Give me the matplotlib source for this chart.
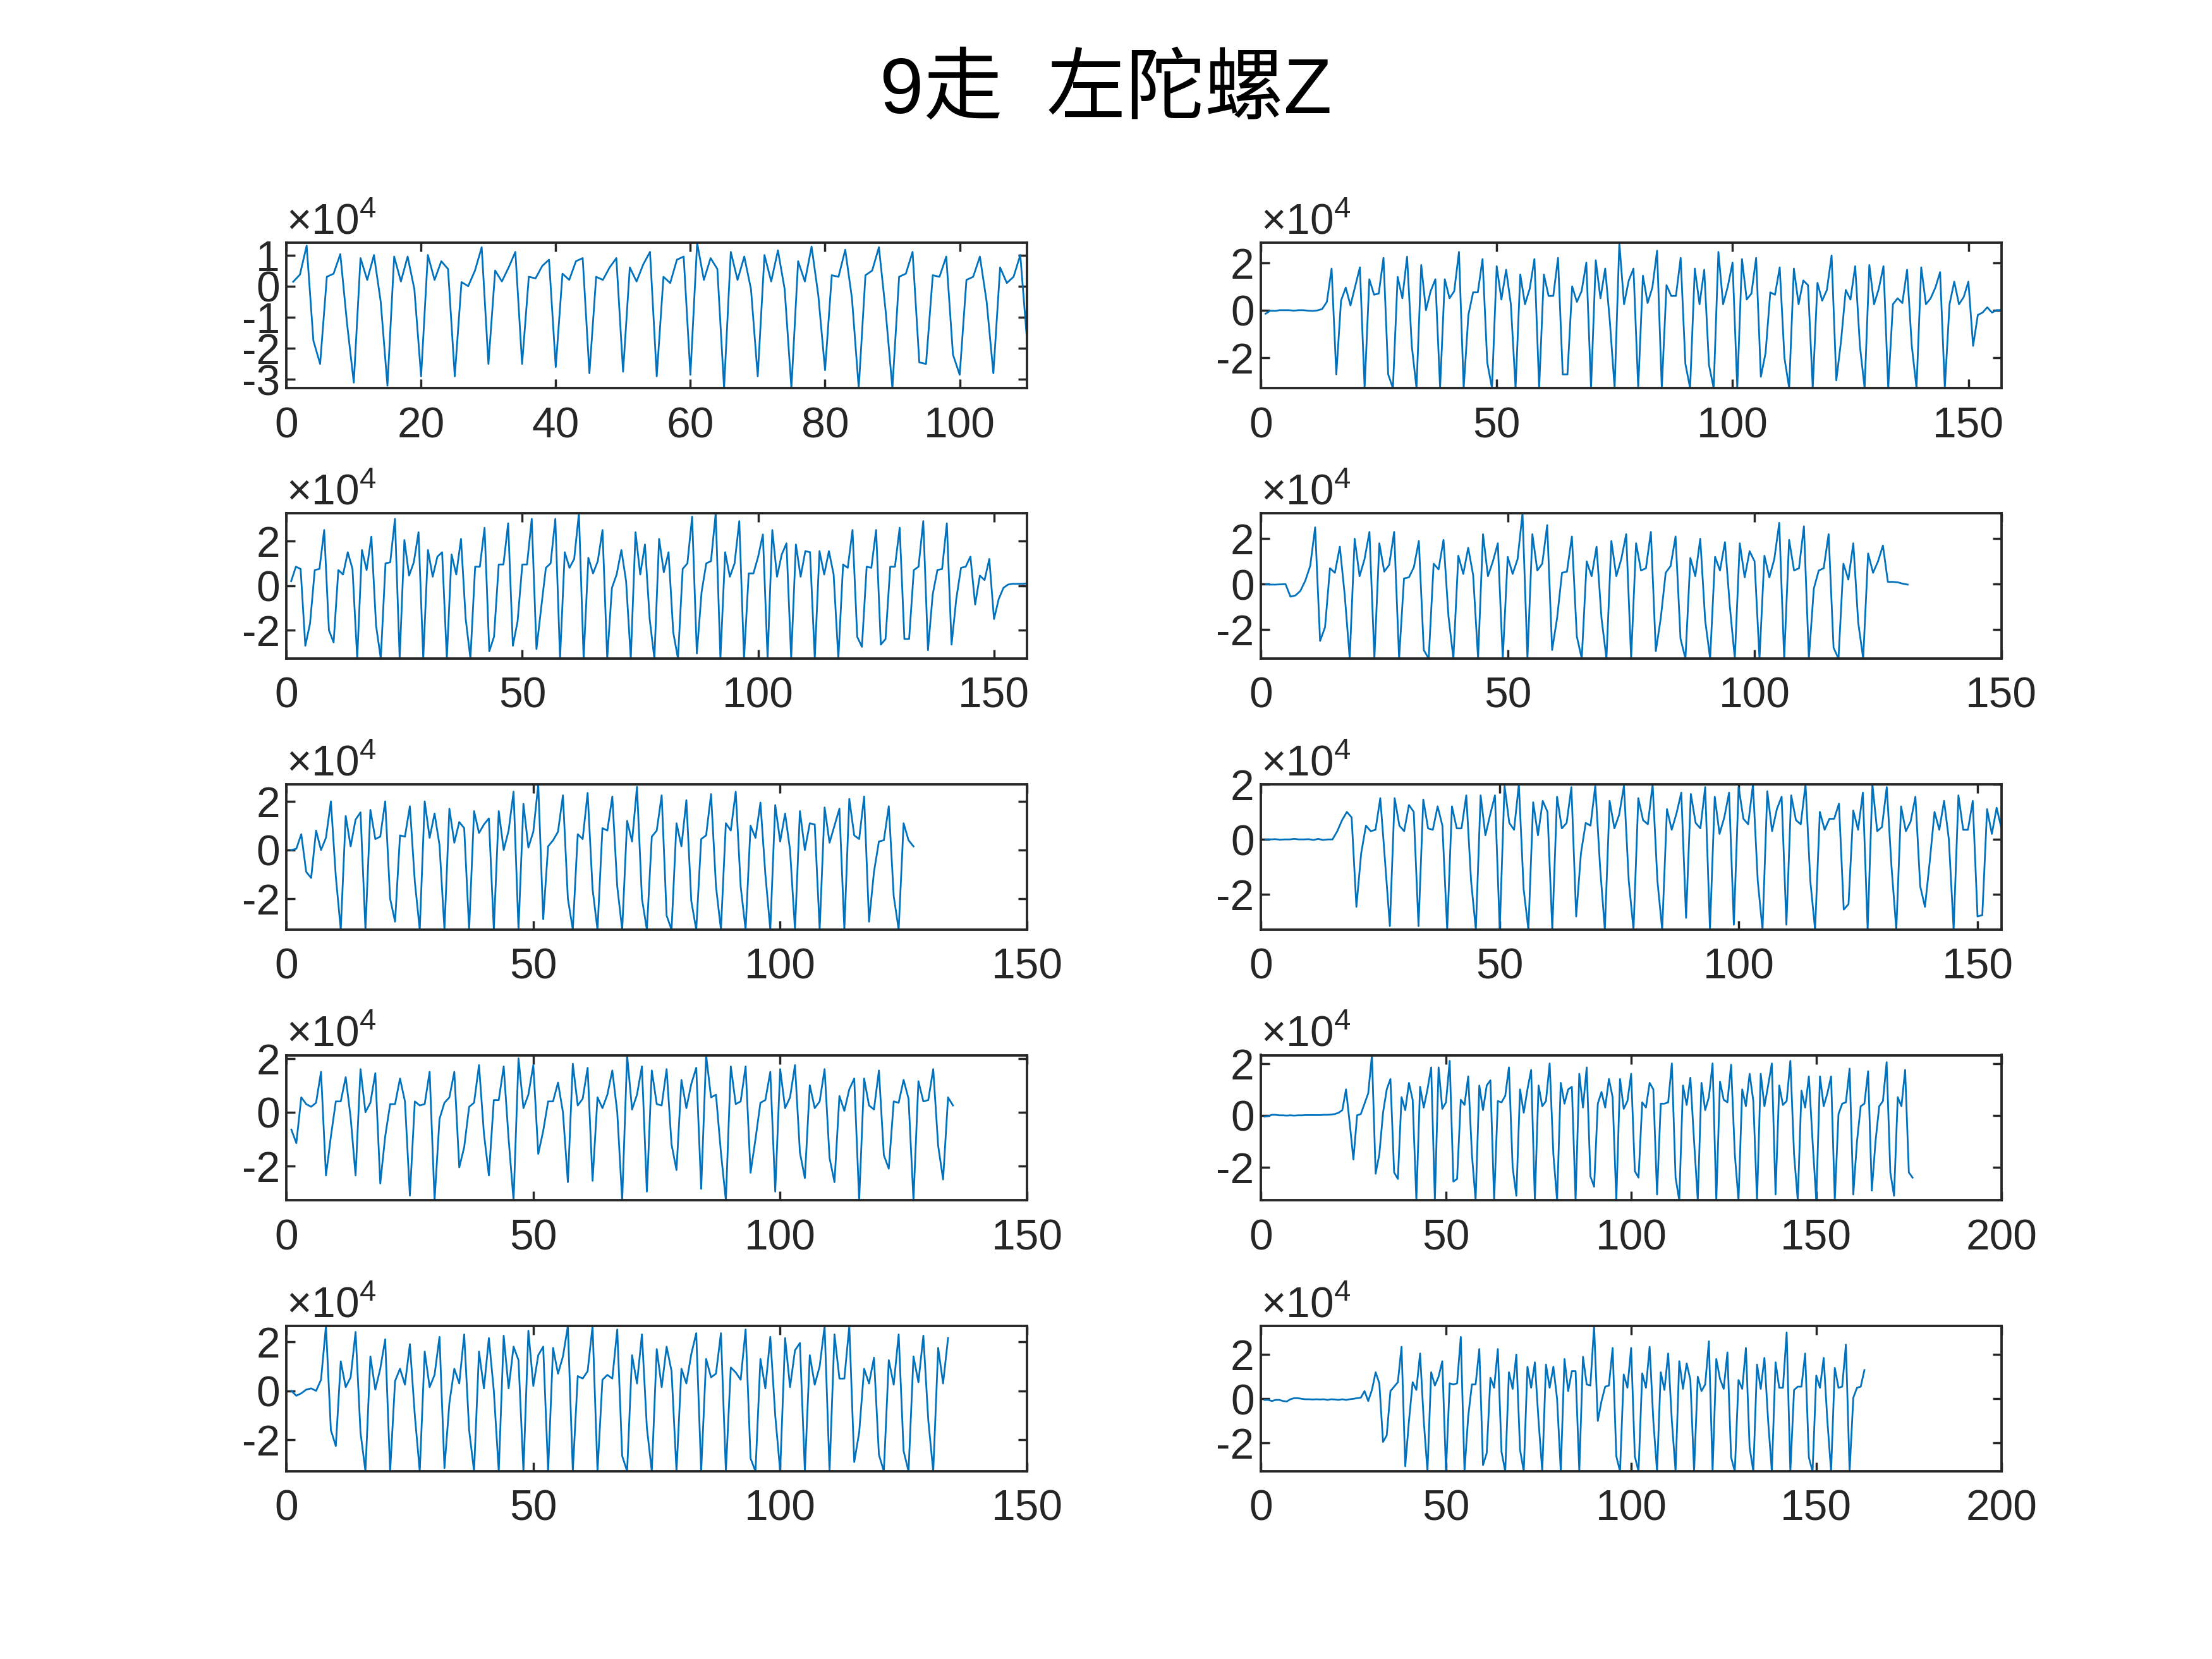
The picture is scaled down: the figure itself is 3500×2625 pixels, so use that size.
import numpy as np
import matplotlib
matplotlib.use('Agg')
import matplotlib.pyplot as plt
from matplotlib.ticker import MultipleLocator, FuncFormatter

plt.rcParams['font.family'] = ['Liberation Sans', 'Noto Sans CJK SC', 'DejaVu Sans']
plt.rcParams['axes.unicode_minus'] = False
plt.rcParams['mathtext.fontset'] = 'custom'
plt.rcParams['mathtext.rm'] = 'Liberation Sans'
plt.rcParams['mathtext.it'] = 'Liberation Sans:italic'
plt.rcParams['mathtext.bf'] = 'Liberation Sans:bold'

title = '9走  左陀螺Z'

# gyro Z readings, in units of 1e4
gz_1 = [0.14, 0.37, 1.3, -1.75, -2.5, 0.3, 0.4, 1.03, -1.2, -3.1,
        0.9, 0.2, 1.0, -0.5, -3.2, 0.95, 0.15, 0.95, -0.1, -2.9,
        1.0, 0.2, 0.8, 0.55, -2.9, 0.13, 0.0, 0.5, 1.25, -2.5,
        0.5, 0.15, 0.6, 1.1, -2.5, 0.3, 0.25, 0.65, 0.85, -2.6,
        0.4, 0.2, 0.8, 0.9, -2.8, 0.3, 0.2, 0.6, 0.9, -2.75,
        0.6, 0.15, 0.7, 1.1, -2.9, 0.3, 0.1, 0.85, 0.95, -2.85,
        1.39, 0.2, 0.9, 0.55, -3.28, 1.1, 0.2, 0.95, -0.1, -2.9,
        1.0, 0.15, 1.15, -0.1, -3.28, 0.8, 0.15, 1.27, -0.3, -2.7,
        0.35, 0.3, 1.17, -0.4, -3.28, 0.35, 0.5, 1.25, -0.8, -3.28,
        0.3, 0.4, 1.1, -2.45, -2.5, 0.35, 0.3, 0.95, -2.2, -2.85,
        0.2, 0.3, 0.95, -0.5, -2.8, 0.6, 0.1, 0.3, 1.0, -1.75]

gz_2 = [-0.15, -0.02, -0.03, 0.0, 0.0, 0.0, -0.02, 0.0, 0.0, -0.02,
        -0.03, -0.01, 0.05, 0.35, 1.75, -2.7, 0.4, 0.95, 0.2, 1.0,
        1.8, -3.28, 1.3, 0.65, 0.7, 2.2, -2.7, -3.28, 1.4, 0.5,
        2.25, -1.5, -3.28, 1.9, 0.0, 0.8, 1.3, -3.28, 1.3, 0.5,
        0.8, 2.45, -3.28, -0.2, 0.75, 0.75, 2.15, -2.2, -3.28, 1.85,
        0.45, 1.7, 0.25, -3.28, 1.5, 0.25, 0.9, 2.15, -3.28, 1.5,
        0.6, 0.6, 2.2, -2.7, -2.7, 1.0, 0.35, 0.8, 2.0, -3.28,
        2.1, 0.5, 1.75, -0.5, -3.28, 2.83, 0.25, 1.25, 1.75, -3.28,
        1.45, 0.3, 0.95, 2.5, -3.28, 1.05, 0.6, 0.6, 2.2, -2.25,
        -3.28, 1.75, 0.25, 1.7, -2.3, -3.28, 2.45, 0.25, 1.0, 2.0,
        -3.28, 2.15, 0.45, 0.7, 2.2, -2.8, -1.8, 0.75, 0.65, 1.8,
        -2.0, -3.28, 1.75, 0.25, 1.25, 1.05, -3.28, 1.15, 0.4, 0.85,
        2.3, -2.95, -1.3, 0.85, 0.45, 1.85, -1.5, -3.28, 1.9, 0.25,
        0.9, 1.85, -3.28, 0.25, 0.5, 0.3, 1.7, -1.5, -3.28, 1.8,
        0.25, 0.5, 0.95, 1.6, -3.28, 0.25, 1.2, 0.25, 0.55, 1.2,
        -1.5, -0.2, -0.1, 0.12, -0.1, 0.0, 0.0]

gz_3 = [0.2, 0.85, 0.75, -2.7, -1.7, 0.7, 0.75, 2.5, -2.0, -2.55,
        0.7, 0.5, 1.5, 0.75, -3.28, 1.6, 0.7, 2.2, -1.8, -3.28,
        1.0, 1.05, 3.0, -3.28, 2.05, 0.45, 1.05, 2.4, -3.28, 1.6,
        0.4, 1.3, 1.5, -3.28, 1.4, 0.5, 2.1, -1.5, -3.28, 0.85,
        0.85, 2.6, -2.95, -2.3, 0.95, 0.95, 2.8, -2.7, -1.6, 0.95,
        0.95, 3.0, -2.85, -1.0, 0.8, 1.0, 3.0, -3.28, 1.5, 0.8,
        1.2, 3.25, -3.28, 1.25, 0.55, 1.1, 2.5, -3.28, -0.1, 0.5,
        1.6, 0.2, -3.28, 2.4, 0.5, 1.85, -1.5, -3.28, 2.1, 0.6,
        1.5, -2.1, -3.28, 0.75, 1.0, 3.1, -3.05, -0.3, 1.0, 1.1,
        3.25, -3.28, 1.5, 0.4, 1.0, 2.9, -3.28, 0.55, 0.55, 1.3,
        2.3, -3.28, 2.5, 0.4, 1.4, 1.9, -3.28, 1.85, 0.4, 1.55,
        1.5, -3.28, 1.55, 0.5, 1.55, 0.5, -3.28, 0.95, 0.8, 2.5,
        -2.3, -2.75, 0.85, 0.8, 2.5, -2.65, -2.4, 0.85, 0.85, 2.6,
        -2.4, -2.4, 0.7, 0.85, 2.9, -2.9, -0.4, 0.7, 0.75, 2.8,
        -2.65, -0.6, 0.8, 0.85, 1.3, -0.85, 0.45, 0.25, 1.2, -1.5,
        -0.6, -0.1, 0.05, 0.08, 0.08, 0.08, 0.1]

gz_4 = [0.0, -0.02, -0.02, -0.01, 0.0, -0.55, -0.5, -0.3, 0.15, 0.8,
        2.5, -2.5, -1.9, 0.7, 0.5, 1.65, -0.5, -3.28, 2.0, 0.35,
        1.1, 2.3, -3.28, 1.8, 0.55, 0.85, 2.3, -3.28, 0.25, 0.3,
        0.75, 1.9, -2.9, -3.28, 0.9, 0.65, 1.95, -1.4, -3.28, 1.25,
        0.45, 1.6, 0.4, -3.28, 2.2, 0.35, 1.0, 1.8, -3.28, 1.2,
        0.45, 1.1, 3.12, -3.28, 2.2, 0.6, 0.9, 2.6, -2.9, -1.5,
        0.5, 0.55, 2.1, -2.3, -3.28, 1.0, 0.35, 1.65, -1.5, -3.28,
        1.9, 0.35, 1.1, 2.2, -3.28, 1.8, 0.6, 0.7, 2.3, -2.95,
        -1.5, 0.5, 0.8, 2.1, -2.4, -3.28, 1.15, 0.35, 2.0, -1.6,
        -3.28, 1.2, 0.6, 1.85, -1.0, -3.28, 1.8, 0.3, 1.45, 1.0,
        -3.28, 1.25, 0.3, 1.1, 2.7, -3.28, 1.95, 0.6, 0.7, 2.55,
        -3.28, -0.2, 0.6, 0.7, 2.2, -2.8, -3.28, 0.9, 0.2, 1.8,
        -1.7, -3.28, 1.35, 0.5, 1.0, 1.7, 0.1, 0.1, 0.08, 0.02,
        -0.02]

gz_5 = [0.0, 0.05, 0.65, -0.9, -1.15, 0.8, 0.0, 0.5, 2.0, -1.1,
        -3.28, 1.4, 0.15, 1.25, 1.55, -3.28, 1.65, 0.45, 0.55, 2.0,
        -2.0, -2.95, 0.6, 0.55, 1.8, -1.3, -3.28, 2.0, 0.5, 1.5,
        0.2, -3.28, 1.7, 0.3, 1.15, 0.9, -3.28, 1.6, 0.7, 1.05,
        1.3, -3.28, 1.6, 0.0, 0.8, 2.4, -3.28, 1.9, 0.1, 0.75,
        2.7, -2.85, 0.15, 0.4, 0.75, 2.25, -2.0, -3.28, 0.65, 0.45,
        2.35, -1.6, -3.28, 0.9, 0.8, 2.2, -1.5, -3.28, 1.2, 0.35,
        2.6, -2.0, -3.28, 0.55, 0.8, 2.25, -2.7, -3.28, 1.1, 0.15,
        2.05, -2.1, -3.28, 0.45, 0.6, 2.3, -1.5, -3.28, 1.1, 0.8,
        2.4, -1.5, -3.28, 1.0, 0.5, 1.95, -1.0, -3.28, 1.85, 0.35,
        1.5, 0.0, -3.28, 1.6, 0.0, 1.1, 1.05, -3.28, 1.75, 0.3,
        1.0, 1.7, -3.28, 2.1, 0.6, 0.45, 2.2, -2.95, -0.9, 0.35,
        0.4, 1.8, -1.9, -3.28, 1.1, 0.4, 0.15]

gz_6 = [0.0, 0.0, 0.01, -0.01, 0.0, 0.0, 0.02, 0.0, 0.0, 0.01,
        -0.02, 0.02, -0.02, 0.0, 0.0, 0.3, 0.7, 1.0, 0.8, -2.45,
        -0.5, 0.5, 0.3, 0.35, 1.5, -0.8, -3.15, 1.5, 0.5, 0.3,
        1.25, 1.0, -3.15, 1.45, 0.4, 0.35, 1.2, 0.5, -3.28, 1.2,
        0.4, 0.4, 1.6, -1.5, -3.28, 1.6, 0.15, 0.9, 1.6, -3.28,
        1.95, 0.6, 0.35, 2.0, -1.8, -3.28, 1.35, 0.15, 1.4, 1.0,
        -3.28, 1.55, 0.4, 0.6, 1.9, -2.8, -0.5, 0.6, 0.5, 1.95,
        -1.0, -3.28, 1.4, 0.4, 0.9, 1.95, -1.5, -3.28, 1.5, 0.7,
        0.55, 2.0, -1.5, -3.28, 1.1, 0.35, 0.95, 1.7, -2.85, 1.65,
        0.6, 0.4, 1.9, -3.28, 1.55, 0.2, 0.8, 1.7, -3.1, 1.9,
        0.75, 0.55, 2.0, -1.5, -3.28, 1.75, 0.3, 1.1, 1.55, -3.1,
        1.6, 0.7, 0.55, 2.0, -1.5, -3.28, 1.0, 0.35, 0.75, 0.75,
        1.3, -2.55, -2.35, 1.05, 0.35, 1.7, -3.28, 2.0, 0.3, 0.45,
        1.9, -1.0, -3.28, 1.2, 0.3, 0.65, 1.55, -1.7, -2.45, -0.8,
        1.0, 0.35, 1.4, 0.0, -3.28, 1.6, 0.35, 0.35, 1.4, -2.8,
        -2.75, 1.1, 0.2, 1.15, 0.4]

gz_7 = [-0.65, -1.15, 0.55, 0.3, 0.2, 0.35, 1.5, -2.35, -0.9, 0.4,
        0.4, 1.3, -0.2, -2.35, 1.6, 0.0, 0.35, 1.45, -2.65, -0.9,
        0.3, 0.3, 1.25, 0.4, -3.1, 0.4, 0.25, 0.3, 1.5, -3.28,
        -0.25, 0.35, 0.55, 1.5, -2.05, -1.3, 0.2, 0.35, 1.75, -0.8,
        -2.35, 0.45, 0.45, 1.7, -1.0, -3.28, 2.0, 0.15, 0.65, 1.75,
        -1.55, -0.7, 0.4, 0.4, 1.1, 0.0, -2.6, 1.8, 0.25, 0.5,
        1.65, -2.55, 0.55, 0.15, 0.65, 1.55, 0.0, -3.28, 2.12, 0.1,
        0.65, 1.7, -2.95, 1.55, 0.3, 0.25, 1.6, -1.2, -2.15, 1.2,
        0.15, 1.05, 1.65, -2.85, 2.12, 0.55, 0.65, -1.5, -3.28, 1.7,
        0.3, 0.4, 1.7, -2.25, -1.0, 0.35, 0.45, 1.5, -2.95, 1.6,
        0.15, 0.55, 1.75, -1.5, -2.45, 1.0, 0.15, 0.4, 1.6, -1.7,
        -2.6, 0.6, 0.05, 0.85, 1.25, -3.28, 1.25, 0.25, 0.1, 1.55,
        -1.6, -2.1, 0.4, 0.35, 1.2, 0.5, -3.28, 1.15, 0.4, 0.45,
        1.6, -1.25, -2.5, 0.55, 0.25]

gz_8 = [-0.05, -0.03, 0.02, 0.02, 0.0, 0.0, -0.01, 0.0, -0.01, 0.0,
        0.0, 0.01, 0.01, 0.01, 0.01, 0.01, 0.02, 0.02, 0.03, 0.05,
        0.1, 0.2, 1.0, -0.3, -1.7, 0.0, 0.05, 0.45, 0.85, 2.32,
        -2.25, -1.5, 0.1, 1.0, 1.4, -2.2, -2.45, 0.7, 0.2, 1.25,
        0.6, -3.28, 1.1, 0.3, 1.0, 1.85, -3.28, 1.85, 0.25, 0.5,
        2.1, -2.55, -2.45, 0.6, 0.4, 1.5, -1.5, -3.28, 1.15, 0.2,
        1.15, 1.35, -3.28, 0.55, 0.5, 0.75, 1.85, -2.0, -3.1, 1.0,
        0.1, 1.0, 1.75, -3.28, 1.15, 0.35, 0.55, 2.0, -1.5, -3.28,
        1.25, 0.45, 1.0, 1.1, -3.28, 1.6, 0.3, 1.85, -2.35, -2.75,
        0.45, 0.9, 0.3, 1.4, 0.7, -3.28, 1.4, 0.25, 0.55, 1.6,
        -2.15, -2.4, 0.5, 0.3, 1.25, 1.0, -3.05, 0.45, 0.45, 0.5,
        2.0, -2.4, -3.28, 1.15, 0.4, 1.45, -1.0, -3.28, 1.25, 0.2,
        0.7, 2.0, -3.28, 1.3, 0.6, 0.5, 1.95, -1.5, -3.28, 1.0,
        0.35, 1.6, 0.55, -3.28, 1.6, 0.35, 1.15, 2.0, -3.05, 1.15,
        0.4, 0.55, 2.1, -1.5, -3.28, 0.95, 0.3, 1.5, -1.0, -3.28,
        1.5, 0.35, 0.85, 1.5, -3.28, 0.05, 0.45, 0.5, 1.8, -3.05,
        -1.0, 0.35, 0.45, 1.7, -2.9, -1.0, 0.35, 0.55, 2.05, -2.2,
        -3.1, 0.7, 0.35, 1.75, -2.2, -2.4]

gz_9 = [0.0, -0.2, -0.1, 0.05, 0.1, 0.0, 0.45, 2.64, -1.6, -2.25,
        1.2, 0.15, 0.55, 2.4, -1.7, -3.28, 1.4, 0.05, 0.9, 2.1,
        -3.28, 0.4, 0.9, 0.25, 1.9, -1.0, -3.28, 1.6, 0.15, 0.65,
        2.2, -3.15, -0.5, 0.9, 0.3, 2.3, -1.6, -3.28, 1.6, 0.1,
        2.15, 0.0, -3.28, 2.25, 0.1, 1.8, 1.25, -3.28, 2.45, 0.2,
        1.45, 1.8, -3.28, 1.75, 0.7, 1.4, 2.64, -3.28, 0.6, 0.5,
        0.8, 2.64, -3.28, 0.45, 0.65, 0.5, 2.5, -2.65, -3.28, 1.45,
        0.3, 2.3, -1.5, -3.28, 1.7, 0.15, 1.8, 0.8, -3.28, 0.9,
        0.3, 1.5, 2.35, -3.28, 1.3, 0.55, 0.7, 2.35, -3.28, 0.95,
        0.75, 0.45, 2.5, -2.75, -3.28, 1.3, 0.1, 2.2, -1.0, -3.28,
        2.15, 0.15, 1.65, 1.95, -3.28, 1.45, 0.25, 1.0, 2.64, -3.28,
        2.3, 0.5, 0.5, 2.64, -2.9, -1.7, 0.9, 0.3, 1.35, -2.6,
        -3.28, 1.25, 0.25, 2.3, -2.45, -3.28, 1.4, 0.35, 2.25, -1.2,
        -3.28, 1.75, 0.3, 2.15]

gz_10 = [-0.05, -0.05, -0.1, -0.05, -0.05, -0.1, -0.12, -0.02, 0.03, 0.03,
         0.0, -0.02, -0.02, -0.03, -0.02, -0.03, -0.02, -0.05, -0.02, -0.03,
         -0.05, -0.02, -0.05, -0.02, 0.0, 0.03, 0.05, 0.35, -0.1, 0.4,
         1.2, 0.7, -1.95, -1.65, 0.35, 0.55, 0.75, 2.35, -3.05, -1.0,
         0.75, 0.4, 2.05, -1.0, -3.28, 1.2, 0.6, 1.0, 1.7, -3.28,
         0.7, 0.65, 0.7, 2.8, -3.28, -0.8, 0.65, 0.65, 2.25, -3.0,
         -2.45, 0.95, 0.5, 2.25, -2.4, -3.28, 1.2, 0.45, 2.0, -2.3,
         -3.28, 1.45, 0.5, 1.65, -1.0, -3.28, 1.55, 0.5, 1.45, 0.0,
         -3.28, 1.8, 0.35, 1.25, 1.25, -3.28, 1.9, 0.65, 0.6, 3.29,
         -1.0, -0.1, 0.55, 0.6, 2.3, -2.6, -3.28, 1.1, 0.5, 2.3,
         -2.6, -3.28, 1.15, 0.5, 2.35, -1.0, -3.28, 1.2, 0.4, 2.05,
         -1.0, -3.28, 1.7, 0.45, 1.6, 0.85, -3.28, 1.0, 0.35, 0.65,
         2.6, -3.28, 1.8, 0.9, 0.45, 2.1, -2.65, -3.28, 0.85, 0.45,
         2.3, -2.2, -3.28, 1.55, 0.45, 1.85, -1.0, -3.28, 1.65, 0.5,
         0.5, 3.0, -3.28, 0.4, 0.55, 0.55, 2.05, -2.65, -3.28, 1.05,
         0.5, 1.85, -1.0, -3.28, 1.4, 0.5, 0.55, 2.45, -3.28, 0.05,
         0.5, 0.55, 1.3]

series = [gz_1, gz_2, gz_3, gz_4, gz_5, gz_6, gz_7, gz_8, gz_9, gz_10]
x_max = [110, 157, 157, 150, 150, 155, 150, 200, 150, 200]
x_step = [20, 50, 50, 50, 50, 50, 50, 50, 50, 50]
y_step = [1, 2, 2, 2, 2, 2, 2, 2, 2, 2]

fig = plt.figure(figsize=(14, 10.5), dpi=250)
lefts = [0.1295, 0.570]
bottoms = [0.766, 0.603, 0.4396, 0.2764, 0.1131]
w, h = 0.3348, 0.0876
dark = '#262626'
fs = 19.5

for k, v in enumerate(series):
    r, c = divmod(k, 2)
    ax = fig.add_axes([lefts[c], bottoms[r], w, h])
    y = np.array(v) * 1e4
    x = np.arange(1, len(y) + 1)
    ax.plot(x, y, color='#0072BD', lw=0.8)
    ax.set_xlim(0, x_max[k])
    ax.set_ylim(y.min(), y.max())
    ax.xaxis.set_major_locator(MultipleLocator(x_step[k]))
    ax.yaxis.set_major_locator(MultipleLocator(y_step[k] * 1e4))
    ax.yaxis.set_major_formatter(FuncFormatter(lambda val, pos: '%g' % round(val / 1e4, 6)))
    ax.tick_params(direction='in', top=True, right=True, labelsize=fs,
                   length=4, width=1, colors=dark)
    ax.tick_params(axis='x', pad=8)
    ax.tick_params(axis='y', pad=3)
    for s in ax.spines.values():
        s.set_linewidth(1.1)
        s.set_color(dark)
    ax.annotate(r'$\times10^{4}$', xy=(0, 1), xycoords='axes fraction',
                xytext=(0, 0), textcoords='offset points',
                ha='left', va='bottom', fontsize=fs, color=dark)

fig.text(0.5, 0.944, title, ha='center', va='center', fontsize=36, color='black')

fig.savefig('out.png', dpi=250)
